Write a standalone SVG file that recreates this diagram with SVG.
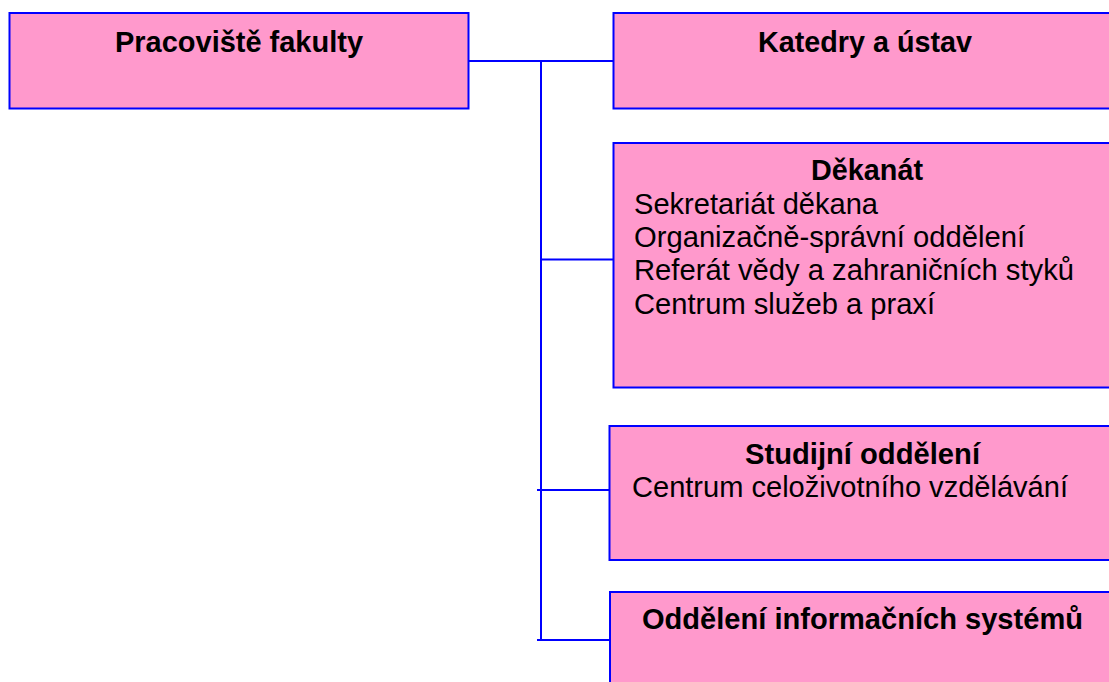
<svg xmlns="http://www.w3.org/2000/svg" width="1109" height="682" viewBox="0 0 1109 682">
<style>
.box{fill:#FF99CC;stroke:#0000FF;stroke-width:2}
.t{font-family:"Liberation Sans",Arial,sans-serif;font-weight:bold;fill:#000}
.n{font-family:"Liberation Sans",Arial,sans-serif;fill:#000}
.c{fill:none;stroke:#0000FF;stroke-width:2}
</style>
<rect width="1109" height="682" fill="#fff"/>
<g id="connectors">
<line class="c" x1="468" y1="61" x2="613" y2="61"/>
<line class="c" x1="541" y1="61" x2="541" y2="640"/>
<line class="c" x1="541" y1="259.5" x2="613" y2="259.5"/>
<line class="c" x1="537" y1="490" x2="609.5" y2="490"/>
<line class="c" x1="537" y1="640" x2="610" y2="640"/>
</g>
<g id="pracoviste">
<rect class="box" x="9.5" y="13" width="459" height="95.5"/>
<text class="t" font-size="29" x="115" y="52" textLength="248" lengthAdjust="spacingAndGlyphs">Pracoviště fakulty</text>
</g>
<g id="katedry">
<rect class="box" x="613.5" y="13" width="500" height="95.5"/>
<text class="t" font-size="29" x="758" y="52" textLength="214" lengthAdjust="spacingAndGlyphs">Katedry a ústav</text>
</g>
<g id="dekanat">
<rect class="box" x="613.5" y="143" width="500" height="244.5"/>
<text class="t" font-size="29" x="811" y="180" textLength="112" lengthAdjust="spacingAndGlyphs">Děkanát</text>
<text class="n" font-size="29" x="634" y="213.5" textLength="244" lengthAdjust="spacingAndGlyphs">Sekretariát děkana</text>
<text class="n" font-size="29" x="634" y="246.8" textLength="391" lengthAdjust="spacingAndGlyphs">Organizačně-správní oddělení</text>
<text class="n" font-size="29" x="634" y="280" textLength="440" lengthAdjust="spacingAndGlyphs">Referát vědy a zahraničních styků</text>
<text class="n" font-size="29" x="634" y="313.5" textLength="301" lengthAdjust="spacingAndGlyphs">Centrum služeb a praxí</text>
</g>
<g id="studijni">
<rect class="box" x="609.5" y="426" width="504" height="134"/>
<text class="t" font-size="29" x="745" y="463.5" textLength="235" lengthAdjust="spacingAndGlyphs">Studijní oddělení</text>
<text class="n" font-size="29" x="632" y="496.7" textLength="436" lengthAdjust="spacingAndGlyphs">Centrum celoživotního vzdělávání</text>
</g>
<g id="ois">
<rect class="box" x="610" y="592" width="504" height="100"/>
<text class="t" font-size="29" x="642" y="629" textLength="441" lengthAdjust="spacingAndGlyphs">Oddělení informačních systémů</text>
</g>
</svg>
